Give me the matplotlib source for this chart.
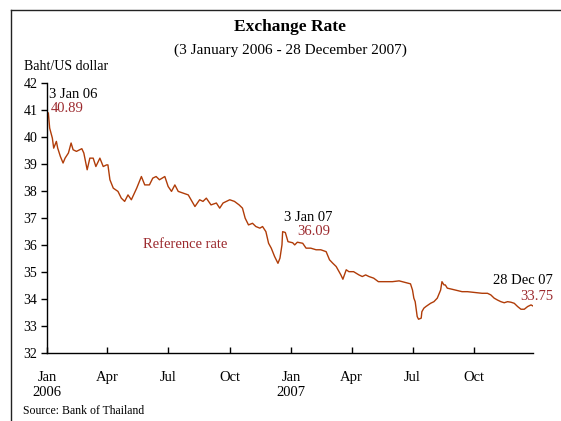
import matplotlib
matplotlib.use("Agg")
import matplotlib.pyplot as plt
from matplotlib.lines import Line2D
import pandas as pd

plt.rcParams['font.family'] = ['Liberation Serif', 'DejaVu Serif']

# Baht per US dollar, reference rate
dates = [
    "2006-01-03", "2006-01-05", "2006-01-09", "2006-01-11", "2006-01-15", "2006-01-17",
    "2006-01-21", "2006-01-25", "2006-01-28", "2006-02-02", "2006-02-06", "2006-02-09",
    "2006-02-14", "2006-02-22", "2006-02-25", "2006-03-02", "2006-03-06", "2006-03-11",
    "2006-03-15", "2006-03-21", "2006-03-26", "2006-03-31", "2006-04-02", "2006-04-05",
    "2006-04-10", "2006-04-17", "2006-04-22", "2006-04-27", "2006-05-02", "2006-05-07",
    "2006-05-15", "2006-05-20", "2006-05-22", "2006-05-27", "2006-06-03", "2006-06-08",
    "2006-06-13", "2006-06-18", "2006-06-26", "2006-07-01", "2006-07-06", "2006-07-11",
    "2006-07-16", "2006-07-23", "2006-07-31", "2006-08-10", "2006-08-17", "2006-08-22",
    "2006-08-27", "2006-09-03", "2006-09-11", "2006-09-16", "2006-09-21", "2006-10-01",
    "2006-10-08", "2006-10-15", "2006-10-20", "2006-10-24", "2006-10-29", "2006-11-04",
    "2006-11-09", "2006-11-15", "2006-11-19", "2006-11-24", "2006-11-28", "2006-12-02",
    "2006-12-07", "2006-12-12", "2006-12-15", "2006-12-18", "2006-12-19", "2006-12-23",
    "2006-12-27", "2007-01-03", "2007-01-06", "2007-01-10", "2007-01-18", "2007-01-23",
    "2007-01-30", "2007-02-07", "2007-02-14", "2007-02-22", "2007-02-27", "2007-03-04",
    "2007-03-09", "2007-03-16", "2007-03-19", "2007-03-24", "2007-03-28", "2007-04-04",
    "2007-04-12", "2007-04-17", "2007-04-22", "2007-04-27", "2007-05-04", "2007-05-11",
    "2007-05-17", "2007-05-24", "2007-06-01", "2007-06-11", "2007-06-20", "2007-06-28",
    "2007-07-01", "2007-07-03", "2007-07-05", "2007-07-08", "2007-07-10", "2007-07-14",
    "2007-07-15", "2007-07-18", "2007-07-21", "2007-07-28", "2007-08-02", "2007-08-07",
    "2007-08-12", "2007-08-14", "2007-08-17", "2007-08-19", "2007-08-22", "2007-08-29",
    "2007-09-06", "2007-09-13", "2007-09-21", "2007-09-28", "2007-10-06", "2007-10-13",
    "2007-10-21", "2007-10-26", "2007-10-31", "2007-11-05", "2007-11-10", "2007-11-15",
    "2007-11-20", "2007-11-25", "2007-11-30", "2007-12-05", "2007-12-10", "2007-12-15",
    "2007-12-20", "2007-12-25", "2007-12-28",
]
rates = [
    40.89, 40.33, 39.96, 39.59, 39.84, 39.59,
    39.28, 39.04, 39.22, 39.41, 39.78, 39.53,
    39.47, 39.57, 39.41, 38.79, 39.22, 39.22,
    38.91, 39.22, 38.91, 38.97, 38.97, 38.42,
    38.11, 37.99, 37.74, 37.62, 37.86, 37.68,
    38.11, 38.42, 38.54, 38.23, 38.23, 38.48,
    38.54, 38.42, 38.54, 38.17, 37.99, 38.23,
    37.99, 37.93, 37.86, 37.43, 37.68, 37.62,
    37.74, 37.49, 37.56, 37.37, 37.56, 37.68,
    37.62, 37.49, 37.37, 37.00, 36.75, 36.81,
    36.69, 36.63, 36.69, 36.50, 36.07, 35.89,
    35.58, 35.33, 35.52, 36.01, 36.50, 36.47,
    36.13, 36.09, 36.01, 36.11, 36.07, 35.89,
    35.89, 35.83, 35.83, 35.76, 35.46, 35.33,
    35.21, 34.90, 34.74, 35.09, 35.02, 35.02,
    34.90, 34.84, 34.90, 34.84, 34.78, 34.65,
    34.65, 34.65, 34.65, 34.68, 34.62, 34.57,
    34.34, 34.04, 33.91, 33.36, 33.26, 33.30,
    33.54, 33.67, 33.73, 33.85, 33.91, 34.04,
    34.34, 34.65, 34.53, 34.53, 34.41, 34.37,
    34.32, 34.28, 34.28, 34.26, 34.24, 34.22,
    34.22, 34.16, 34.04, 33.97, 33.91, 33.87,
    33.91, 33.89, 33.85, 33.73, 33.63, 33.63,
    33.73, 33.79, 33.75,
]

tick_dates = ["2006-01-01", "2006-04-01", "2006-07-01", "2006-10-01",
              "2007-01-01", "2007-04-01", "2007-07-01", "2007-10-01"]
tick_labels = ["Jan\n2006", "Apr", "Jul", "Oct", "Jan\n2007", "Apr", "Jul", "Oct"]
y_ticks = list(range(32, 43))

W, H = 561, 421
LINE_COLOR = "#B03C08"
NOTE_COLOR = "#9C2A2E"

fig = plt.figure(figsize=(W / 100, H / 100), dpi=100)


def fx(px):
    return px / W


def fy(py):
    return 1 - py / H


ax = fig.add_axes([fx(47), fy(353.3), fx(533) - fx(47), fy(83) - fy(353.3)])

x = pd.to_datetime(dates)
ax.plot(x, rates, color=LINE_COLOR, lw=1.0)

ax.set_xlim(pd.Timestamp("2006-01-01"), pd.Timestamp("2007-12-28"))
ax.set_ylim(32, 42)
ax.set_yticks(y_ticks)
ax.set_xticks(pd.to_datetime(tick_dates))
ax.set_xticklabels(tick_labels, linespacing=1.2)

for side in ("top", "right"):
    ax.spines[side].set_visible(False)
for side in ("left", "bottom"):
    ax.spines[side].set_linewidth(1.0)

ax.tick_params(axis="x", direction="in", length=4, width=1, pad=13, labelsize=10.5)
ax.tick_params(axis="y", direction="out", length=4, width=1, pad=3, labelsize=10)

# Titles and labels
fig.text(fx(290), fy(27), "Exchange Rate", ha="center", va="center",
         fontsize=12.5, fontweight="bold")
fig.text(fx(290), fy(50), "(3 January 2006 - 28 December 2007)",
         ha="center", va="center", fontsize=11)
fig.text(fx(24), fy(67), "Baht/US dollar", ha="left", va="center", fontsize=10)
fig.text(fx(23), fy(411), "Source: Bank of Thailand", ha="left", va="center",
         fontsize=8.5)

# Point annotations
fig.text(fx(49), fy(94), "3 Jan 06", ha="left", va="center", fontsize=10.5)
fig.text(fx(51), fy(108), f"{rates[0]:.2f}", ha="left", va="center",
         fontsize=10.5, color=NOTE_COLOR)
i07 = dates.index("2007-01-03")
fig.text(fx(284), fy(217), "3 Jan 07", ha="left", va="center", fontsize=10.5)
fig.text(fx(297.5), fy(232), f"{rates[i07]:.2f}", ha="left", va="center",
         fontsize=10.5, color=NOTE_COLOR)
fig.text(fx(493), fy(281), "28 Dec 07", ha="left", va="center", fontsize=10.5)
fig.text(fx(520), fy(296), f"{rates[-1]:.2f}", ha="left", va="center",
         fontsize=10.5, color=NOTE_COLOR)
fig.text(fx(143), fy(244), "Reference rate", ha="left", va="center",
         fontsize=10.5, color=NOTE_COLOR)

# Frame around the figure (top and left edges)
fig.add_artist(Line2D([fx(10.5), 1.0], [fy(9.5), fy(9.5)], color="#222222", lw=1.0))
fig.add_artist(Line2D([fx(10.5), fx(10.5)], [fy(9.5), 0.0], color="#222222", lw=1.0))

fig.savefig("out.png", dpi=100)
